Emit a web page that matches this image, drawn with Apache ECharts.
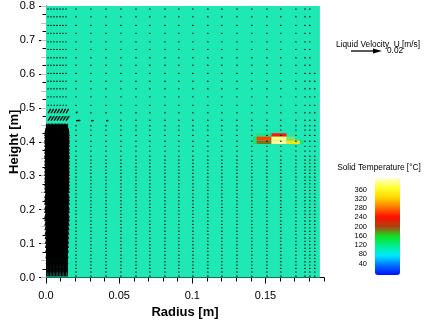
<!DOCTYPE html>
<html>
<head>
<meta charset="utf-8">
<script src="https://cdn.jsdelivr.net/npm/echarts@6/dist/echarts.min.js"></script>
<style>
  html, body { margin: 0; padding: 0; background: #fff; }
  #chart { width: 428px; height: 322px; }
</style>
</head>
<body>
<div id="chart"></div>
<script>
const FONT = "'Liberation Sans', Arial, sans-serif";
const PX_PER_MS = 1550;            // arrow length in pixels for a velocity of 1 m/s
const legendVelocity = 0.02;       // reference arrow in the velocity legend [m/s]

// Liquid domain (radius, height) [m]
const domainRadius = [0, 0.1872];
const domainHeight = [0, 0.8];

// Mesh heights [m]: refined lower part, coarser upper part
const heightsLower = [0.003, 0.015, 0.025, 0.035, 0.045, 0.055, 0.065, 0.075, 0.085, 0.095,
  0.105, 0.115, 0.125, 0.135, 0.145, 0.155, 0.165, 0.175, 0.185, 0.195,
  0.205, 0.215, 0.225, 0.235, 0.245, 0.255, 0.265, 0.275, 0.285, 0.295,
  0.305, 0.315, 0.325, 0.335, 0.345, 0.356, 0.371, 0.385, 0.400, 0.417, 0.433, 0.446];
const heightsUpper = [0.462, 0.484, 0.506, 0.531, 0.555, 0.577, 0.600, 0.624, 0.646,
  0.670, 0.693, 0.718, 0.741, 0.767, 0.790];

// Mesh radii [m]
const coreRadius = [0.0005, 0.0015, 0.0025, 0.0035, 0.0045, 0.0055, 0.0065, 0.0075,
  0.0085, 0.0095, 0.0105, 0.0115, 0.0125, 0.0135, 0.0145];
const axisRadius = [0.0014, 0.0034, 0.0055, 0.0075, 0.0096, 0.0116, 0.0137];
const outerRadius = [0.0205, 0.0307, 0.041, 0.0512, 0.0615, 0.071, 0.0813, 0.0908, 0.1004,
  0.1106, 0.1202, 0.1305, 0.1407, 0.151, 0.1605, 0.1708, 0.177, 0.1803];
const nearWallRadius = 0.1837;
const nearWallTop = 0.60;

// Upward velocity in the central plume, one value per lower mesh height [m/s]
const coreUpflow = [0.006, 0.008, 0.010, 0.012, 0.013, 0.014, 0.015, 0.016, 0.017, 0.018,
  0.019, 0.019, 0.020, 0.020, 0.021, 0.021, 0.021, 0.022, 0.022, 0.022,
  0.022, 0.022, 0.022, 0.022, 0.022, 0.022, 0.022, 0.022, 0.021, 0.021,
  0.021, 0.021, 0.021, 0.020, 0.020, 0.019, 0.017, 0.014, 0.011, 0.0075, 0.0042, 0.0018];

// Velocity near the axis above the plume, one value per upper mesh height [m/s]
const axisUpperU = [0.0022, 0.0018, 0.0003, 0, 0, 0, 0, 0, 0, 0, 0, 0, 0, 0, 0];
const axisUpperV = [0.0032, 0.0030, 0.0009, 0.0002, 0.0002, 0.0002, 0.0002, 0.0002,
  0.0002, 0.0002, 0.0002, 0.0002, 0.0002, 0.0002, 0.0002];

// Nearly quiescent liquid away from the plume [u, v] in m/s
const ambientFlow = [0, 0.0002];

// Radial outflow at the top of the plume: [r, z, u, v]
const plumeOutflow = [
  [0.0205, 0.462, 0.0030, 0.0002],
  [0.0307, 0.462, 0.0020, 0],
  [0.041, 0.462, 0.0018, 0],
  [0.0205, 0.484, 0.0010, 0.0012],
  [0.0307, 0.484, 0, 0.0006],
  [0.0307, 0.506, 0, 0.0006],
  [0.041, 0.506, 0, 0.0006]
];

// Solid particle cells: [r0, r1, z0, z1, temperature °C, opacity]
const solidCells = [
  [0.1415, 0.1439, 0.3934, 0.4150, 150, 0.55],
  [0.1439, 0.1541, 0.4150, 0.4249, 150, 0.35],
  [0.1541, 0.1644, 0.4150, 0.4249, 245, 1],
  [0.1439, 0.1541, 0.4032, 0.4150, 262, 1],
  [0.1541, 0.1644, 0.4032, 0.4150, 388, 1],
  [0.1644, 0.1701, 0.4032, 0.4150, 330, 0.45],
  [0.1439, 0.1541, 0.3934, 0.4032, 185, 1],
  [0.1541, 0.1644, 0.3934, 0.4032, 395, 1],
  [0.1644, 0.1735, 0.3934, 0.4032, 335, 1],
  [0.1735, 0.1760, 0.3934, 0.4032, 150, 0.5]
];

// Temperature scale
const tempRange = [-10, 410];
const tempTickStep = 40;
const tempColors = ['#0010ff', '#0070ff', '#00e8ff', '#00f090', '#10e020', '#b04010',
  '#ff1000', '#ff7a00', '#ffd800', '#ffff30', '#ffffd8'];

// ---- assemble the velocity field on the mesh ----
const vectors = [];
heightsLower.forEach((z, i) => {
  coreRadius.forEach(r => vectors.push([r, z, 0, coreUpflow[i]]));
  outerRadius.forEach(r => vectors.push([r, z, ambientFlow[0], ambientFlow[1]]));
  if (z <= nearWallTop) vectors.push([nearWallRadius, z, ambientFlow[0], ambientFlow[1]]);
});
heightsUpper.forEach((z, i) => {
  axisRadius.forEach(r => vectors.push([r, z, axisUpperU[i], axisUpperV[i]]));
  outerRadius.forEach(r => {
    const o = plumeOutflow.find(p => p[0] === r && p[1] === z);
    vectors.push(o ? o.slice() : [r, z, ambientFlow[0], ambientFlow[1]]);
  });
  if (z <= nearWallTop) vectors.push([nearWallRadius, z, ambientFlow[0], ambientFlow[1]]);
});

// arrow geometry in pixels along +x; returns total length and head size
function arrowGeom(len) {
  const hl = Math.min(9, Math.max(1.4, 0.3 * len));
  const hw = Math.min(2.6, Math.max(1.1, 0.09 * len));
  return { total: Math.max(len, hl), hl, hw };
}

function renderArrow(params, api) {
  const p = api.coord([api.value(0), api.value(1)]);
  const dx = api.value(2) * PX_PER_MS;
  const dy = -api.value(3) * PX_PER_MS;
  const len = Math.hypot(dx, dy);
  const ang = len > 0 ? Math.atan2(dy, dx) : -Math.PI / 2;
  const g = arrowGeom(len);
  const children = [];
  if (g.total > g.hl) {
    children.push({
      type: 'line',
      shape: { x1: 0, y1: 0, x2: g.total - g.hl, y2: 0 },
      style: { stroke: '#000', lineWidth: 1.3 }
    });
  }
  children.push({
    type: 'polygon',
    shape: { points: [[g.total, 0], [g.total - g.hl, -g.hw], [g.total - g.hl, g.hw]] },
    style: { fill: '#000' }
  });
  return { type: 'group', x: p[0], y: p[1], rotation: -ang, children };
}

function renderRect(params, api) {
  const a = api.coord([api.value(0), api.value(3)]);
  const b = api.coord([api.value(1), api.value(2)]);
  return {
    type: 'rect',
    shape: { x: a[0], y: a[1], width: b[0] - a[0], height: b[1] - a[1] },
    style: { fill: api.visual('color'), opacity: api.value(5) }
  };
}

function renderDomain(params, api) {
  const a = api.coord([api.value(0), api.value(3)]);
  const b = api.coord([api.value(1), api.value(2)]);
  return {
    type: 'rect',
    shape: { x: a[0], y: a[1], width: b[0] - a[0], height: b[1] - a[1] },
    style: { fill: '#1ee8b4' }
  };
}

const legendLen = legendVelocity * PX_PER_MS;
const lg = arrowGeom(legendLen);

const chart = echarts.init(document.getElementById('chart'), null, { renderer: 'canvas' });
chart.setOption({
  animation: false,
  backgroundColor: '#fff',
  textStyle: { fontFamily: FONT },
  grid: [
    { left: 46, top: 6, width: 278, height: 271.5, outerBoundsMode: 'none', containLabel: false },
    { left: 375, top: 180.3, width: 25, height: 92.4, outerBoundsMode: 'none', containLabel: false }
  ],
  xAxis: [
    {
      type: 'value', gridIndex: 0, min: 0, max: 0.19, interval: 0.05, position: 'bottom',
      axisLine: { show: true, lineStyle: { color: '#000', width: 1 } },
      axisTick: { show: true, length: 6, lineStyle: { color: '#000' } },
      axisLabel: {
        showMaxLabel: false, color: '#000', fontSize: 11, fontFamily: FONT, margin: 13,
        formatter: v => (v === 0 ? '0.0' : String(+v.toFixed(2)))
      },
      splitLine: { show: false },
      name: 'Radius [m]', nameLocation: 'middle', nameGap: 28, nameMoveOverlap: false,
      nameTextStyle: { fontWeight: 'bold', fontSize: 13, color: '#000', fontFamily: FONT }
    },
    {
      type: 'value', gridIndex: 0, min: 0, max: 0.19, interval: 0.01, position: 'bottom',
      axisLine: { show: false },
      axisTick: { show: true, length: 4, lineStyle: { color: '#000' } },
      axisLabel: { show: false }, splitLine: { show: false }
    },
    { type: 'value', gridIndex: 1, min: 0, max: 1, show: false }
  ],
  yAxis: [
    {
      type: 'value', gridIndex: 0, min: 0, max: 0.8, interval: 0.1, position: 'left',
      axisLine: { show: true, lineStyle: { color: '#000', width: 1 } },
      axisTick: { show: true, length: 7, lineStyle: { color: '#000' } },
      minorTick: { show: true, splitNumber: 4, length: 3.5, lineStyle: { color: '#000' } },
      axisLabel: { color: '#000', fontSize: 11, fontFamily: FONT, margin: 11, formatter: v => v.toFixed(1) },
      splitLine: { show: false }, minorSplitLine: { show: false },
      name: 'Height [m]', nameLocation: 'middle', nameGap: 25, nameRotate: 90, nameMoveOverlap: false,
      nameTextStyle: { fontWeight: 'bold', fontSize: 13, color: '#000', fontFamily: FONT }
    },
    {
      type: 'value', gridIndex: 0, min: 0, max: 0.8, interval: 0.05, position: 'right',
      axisLine: { show: true, lineStyle: { color: '#c0c0c0' } },
      axisTick: { show: true, inside: true, length: 5, lineStyle: { color: '#c0c0c0' } },
      axisLabel: { show: false }, splitLine: { show: false }
    },
    {
      type: 'value', gridIndex: 1, min: 0, max: 400, interval: tempTickStep,
      axisLine: { show: false }, axisTick: { show: false }, splitLine: { show: false },
      axisLabel: {
        color: '#000', fontSize: 7.5, fontFamily: FONT, margin: 8,
        formatter: v => (v <= 0 || v >= 400 ? '' : String(v))
      }
    }
  ],
  visualMap: {
    type: 'continuous', seriesIndex: 1, dimension: 4,
    min: tempRange[0], max: tempRange[1], orient: 'vertical',
    left: 375, top: 178, itemWidth: 25, itemHeight: 97, padding: 0,
    calculable: false, hoverLink: false,
    inRange: { color: tempColors }
  },
  graphic: [
    {
      type: 'text', x: 378, y: 45,
      style: { text: 'Liquid Velocity  U [m/s]', align: 'center', verticalAlign: 'middle',
        fontSize: 8.3, fontFamily: FONT, fill: '#000' }
    },
    {
      type: 'group', x: 351, y: 51,
      children: [
        { type: 'line', shape: { x1: 0, y1: 0, x2: lg.total - lg.hl, y2: 0 }, style: { stroke: '#000', lineWidth: 1.3 } },
        { type: 'polygon', shape: { points: [[lg.total, 0], [lg.total - lg.hl, -lg.hw], [lg.total - lg.hl, lg.hw]] }, style: { fill: '#000' } },
        { type: 'text', style: { text: String(legendVelocity), x: lg.total + 5, y: 0, verticalAlign: 'middle',
          fontSize: 8.3, fontFamily: FONT, fill: '#000' } }
      ]
    },
    {
      type: 'text', x: 379, y: 168,
      style: { text: 'Solid Temperature [°C]', align: 'center', verticalAlign: 'middle',
        fontSize: 8.3, fontFamily: FONT, fill: '#000' }
    }
  ],
  series: [
    {
      name: 'Liquid', type: 'custom', xAxisIndex: 0, yAxisIndex: 0, silent: true,
      renderItem: renderDomain,
      encode: { x: [0, 1], y: [2, 3] },
      data: [[domainRadius[0], domainRadius[1], domainHeight[0], domainHeight[1]]]
    },
    {
      name: 'Solid Temperature', type: 'custom', xAxisIndex: 0, yAxisIndex: 0, silent: true,
      renderItem: renderRect,
      encode: { x: [0, 1], y: [2, 3] },
      data: solidCells
    },
    {
      name: 'Liquid Velocity', type: 'custom', xAxisIndex: 0, yAxisIndex: 0, silent: true,
      renderItem: renderArrow,
      encode: { x: 0, y: 1 },
      data: vectors
    }
  ]
});
</script>
</body>
</html>
